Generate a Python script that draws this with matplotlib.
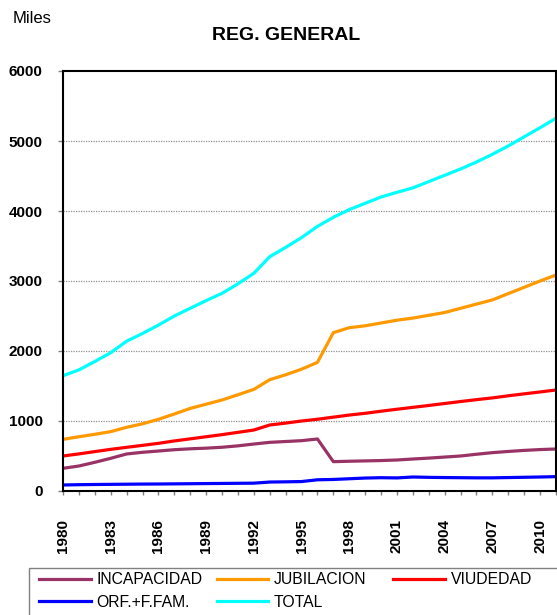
import matplotlib
matplotlib.use("Agg")
import matplotlib.pyplot as plt
from matplotlib.patches import Rectangle

plt.rcParams['font.family'] = ['Liberation Sans', 'DejaVu Sans']

years = list(range(1980, 2012))
incapacidad = [324, 357, 410, 467, 529, 553, 571, 590, 603, 612, 625, 645, 671, 695, 707, 719,
               743, 419, 425, 430, 435, 443, 457, 470, 485, 500, 525, 548, 565, 580, 592, 600]
jubilacion = [738, 775, 810, 848, 910, 960, 1024, 1100, 1180, 1240, 1300, 1375, 1452, 1590, 1660, 1740,
              1838, 2262, 2333, 2360, 2400, 2440, 2470, 2510, 2550, 2610, 2670, 2730, 2820, 2910, 3000, 3086]
viudedad = [500, 530, 563, 595, 624, 652, 681, 715, 745, 775, 805, 838, 871, 943, 970, 1000,
            1025, 1055, 1085, 1110, 1140, 1168, 1195, 1222, 1250, 1278, 1305, 1330, 1360, 1388, 1415, 1443]
orfandad = [86, 90, 93, 95, 97, 99, 100, 102, 104, 106, 108, 110, 112, 128, 131, 135,
            160, 165, 175, 185, 190, 187, 200, 195, 192, 190, 188, 188, 192, 196, 200, 205]
total = [1647, 1730, 1850, 1976, 2140, 2250, 2370, 2500, 2610, 2720, 2824, 2960, 3110, 3347, 3480, 3620,
         3780, 3910, 4020, 4110, 4200, 4267, 4330, 4420, 4510, 4600, 4700, 4810, 4930, 5060, 5190, 5324]

series_names = ["INCAPACIDAD", "JUBILACION", "VIUDEDAD", "ORF.+F.FAM.", "TOTAL"]
series_colors = ["#993366", "#FF9900", "#FF0000", "#0000FF", "#00FFFF"]
yticks = [0, 1000, 2000, 3000, 4000, 5000, 6000]
xlabel_years = list(range(1980, 2011, 3))

W, H = 557, 615
fig = plt.figure(figsize=(W / 100, H / 100), dpi=100)
ax = fig.add_axes([63 / W, 1 - 491 / H, (556 - 63) / W, (491 - 71) / H])

data = [incapacidad, jubilacion, viudedad, orfandad, total]
handles = []
for name, vals, col in zip(series_names, data, series_colors):
    h, = ax.plot(years, vals, color=col, lw=2.3, label=name, solid_joinstyle='round')
    handles.append(h)

ax.set_xlim(1980, 2011)
ax.set_ylim(0, 6000)
ax.set_yticks(yticks)
ax.set_yticklabels([str(v) for v in yticks], fontsize=11, fontweight='bold')
ax.set_xticks(years)
ax.set_xticklabels([str(y) if y in xlabel_years else "" for y in years],
                   rotation=90, fontsize=11, fontweight='bold')
ax.tick_params(axis='y', length=3.5, width=1, pad=11, color='#808080')
ax.tick_params(axis='x', length=3, width=1, pad=17, color='#808080')
for yv in yticks[1:-1]:
    ax.axhline(yv, color='#909090', lw=0.9, ls=(0, (1, 1)), zorder=0)
for s in ax.spines.values():
    s.set_linewidth(1.5)
    s.set_color('black')

fig.text(13 / W, 1 - 18.5 / H, "Miles", fontsize=12, va='center', ha='left')
fig.text(286 / W, 1 - 36 / H, "REG. GENERAL", fontsize=14, fontweight='bold', va='center', ha='center')

# legend frame (extends past the figure edge as in the reference)
fig.add_artist(Rectangle((28.5 / W, -0.05), 0.99, (1 - 567.5 / H) + 0.05,
                         transform=fig.transFigure, fill=False, edgecolor='#808080', lw=1.0))

columns = [[0, 3], [1, 4], [2]]
col_x = [39, 216.5, 393]
for idxs, cx in zip(columns, col_x):
    lg = fig.legend([handles[i] for i in idxs], [series_names[i] for i in idxs],
                    loc='upper left', bbox_to_anchor=(cx / W, 1 - 572 / H),
                    fontsize=11.3, frameon=False, handlelength=3.3, handletextpad=0.36,
                    borderpad=0, labelspacing=0.5, borderaxespad=0)

fig.savefig("out.png", dpi=100)
